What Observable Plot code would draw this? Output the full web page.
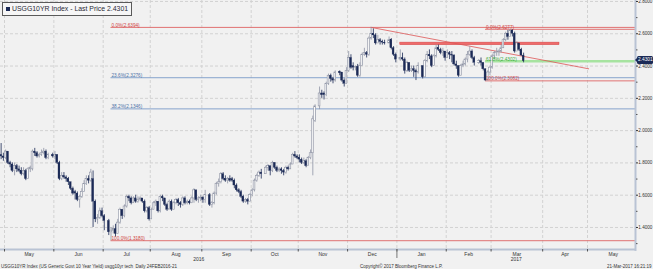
<!DOCTYPE html>
<html><head><meta charset="utf-8">
<script src="https://cdn.jsdelivr.net/npm/d3@7"></script>
<script src="https://cdn.jsdelivr.net/npm/@observablehq/plot@0.6"></script>
<style>
html,body{margin:0;padding:0;background:#f1f1f1;}
#wrap{position:relative;width:653px;height:269px;overflow:hidden;font-family:"Liberation Sans",Arial,sans-serif;}
#title{position:absolute;left:2px;top:2px;height:12px;padding:0 3px 0 3px;border:1px solid #5a5a5a;background:#f6f6f6;font-size:6.9px;line-height:12px;color:#2a2a36;white-space:nowrap;}
#title .sq{display:inline-block;width:4px;height:4px;background:#1b2a56;margin-right:2px;vertical-align:0px;}
#tag{position:absolute;height:7.5px;line-height:7.5px;padding:0 1px;background:#1b2a56;color:#fff;font-size:4.8px;border-radius:1.5px;text-align:center;width:14px;}
#tag:before{content:"";position:absolute;left:-2px;top:1.8px;border-top:2px solid transparent;border-bottom:2px solid transparent;border-right:2px solid #1b2a56;}
</style></head><body><div id="wrap"></div>
<script>
// ---------- data ----------
const holidays = ["2016-05-30","2016-07-04","2016-09-05","2016-10-10","2016-11-11","2016-11-24","2016-12-26","2017-01-02","2017-01-16","2017-02-20"];
const firstDate = "2016-04-27", lastDate = "2017-03-21";
// [open, high, low, close] per trading day
const apr16 = [[1.93,1.94,1.84,1.85],[1.85,1.92,1.82,1.84],[1.84,1.86,1.81,1.83]];
const may16 = [[1.83,1.88,1.82,1.87],[1.87,1.87,1.79,1.80],[1.80,1.81,1.77,1.79],[1.79,1.80,1.74,1.75],[1.75,1.80,1.72,1.78],
 [1.78,1.79,1.74,1.76],[1.76,1.78,1.74,1.75],[1.75,1.77,1.72,1.73],[1.73,1.77,1.72,1.75],[1.75,1.76,1.69,1.70],
 [1.70,1.77,1.70,1.76],[1.76,1.78,1.74,1.77],[1.76,1.88,1.75,1.87],[1.87,1.89,1.84,1.86],[1.86,1.87,1.83,1.84],
 [1.84,1.86,1.83,1.85],[1.85,1.88,1.84,1.86],[1.86,1.89,1.85,1.87],[1.87,1.88,1.82,1.83],[1.83,1.86,1.82,1.85],
 [1.85,1.86,1.83,1.84]];
const jun16 = [[1.84,1.87,1.82,1.85],[1.85,1.85,1.79,1.80],[1.80,1.81,1.69,1.70],
 [1.70,1.74,1.69,1.72],[1.72,1.74,1.70,1.71],[1.71,1.72,1.68,1.70],[1.70,1.71,1.66,1.68],[1.68,1.68,1.63,1.64],
 [1.64,1.65,1.60,1.61],[1.62,1.63,1.57,1.61],[1.61,1.62,1.56,1.57],[1.57,1.60,1.52,1.59],[1.59,1.64,1.58,1.62],
 [1.62,1.69,1.62,1.67],[1.67,1.72,1.66,1.70],[1.70,1.72,1.67,1.69],[1.69,1.76,1.68,1.74],[1.70,1.75,1.40,1.56],
 [1.56,1.57,1.43,1.45],[1.45,1.48,1.42,1.46],[1.46,1.52,1.45,1.50],[1.50,1.52,1.46,1.47]];
const jul16 = [[1.47,1.48,1.38,1.44],
 [1.44,1.45,1.35,1.37],[1.37,1.40,1.318,1.38],[1.38,1.41,1.36,1.39],[1.39,1.42,1.34,1.36],
 [1.36,1.45,1.36,1.43],[1.43,1.52,1.42,1.51],[1.51,1.51,1.45,1.47],[1.47,1.54,1.46,1.53],[1.53,1.60,1.52,1.59],
 [1.59,1.60,1.56,1.58],[1.58,1.59,1.54,1.55],[1.55,1.59,1.55,1.58],[1.58,1.60,1.55,1.56],[1.56,1.59,1.55,1.57],
 [1.57,1.59,1.56,1.58],[1.58,1.58,1.55,1.56],[1.56,1.57,1.49,1.50],[1.50,1.53,1.49,1.52],[1.52,1.53,1.44,1.45]];
const aug16 = [[1.45,1.52,1.45,1.51],[1.51,1.56,1.51,1.55],[1.55,1.57,1.53,1.56],[1.56,1.56,1.49,1.50],[1.50,1.60,1.49,1.59],
 [1.59,1.60,1.56,1.58],[1.58,1.58,1.53,1.54],[1.54,1.55,1.50,1.51],[1.51,1.57,1.51,1.56],[1.56,1.57,1.50,1.51],
 [1.51,1.56,1.51,1.55],[1.55,1.58,1.54,1.57],[1.57,1.58,1.53,1.55],[1.55,1.56,1.52,1.54],[1.54,1.59,1.53,1.58],
 [1.58,1.59,1.54,1.55],[1.55,1.57,1.54,1.56],[1.56,1.57,1.54,1.55],[1.55,1.59,1.55,1.58],[1.58,1.64,1.55,1.63],
 [1.63,1.63,1.56,1.57],[1.57,1.59,1.55,1.58],[1.58,1.60,1.56,1.585]];
const sep16 = [[1.585,1.59,1.55,1.57],[1.57,1.63,1.55,1.60],
 [1.60,1.61,1.53,1.54],[1.54,1.56,1.52,1.55],[1.55,1.62,1.54,1.61],[1.61,1.68,1.60,1.67],
 [1.67,1.70,1.65,1.68],[1.68,1.74,1.67,1.73],[1.73,1.74,1.69,1.70],[1.70,1.72,1.68,1.69],[1.69,1.71,1.67,1.70],
 [1.70,1.72,1.68,1.69],[1.70,1.71,1.68,1.69],[1.69,1.70,1.64,1.66],[1.66,1.67,1.62,1.63],[1.63,1.64,1.61,1.62],
 [1.62,1.63,1.58,1.59],[1.59,1.60,1.55,1.56],[1.56,1.58,1.55,1.57],[1.57,1.58,1.54,1.56],[1.56,1.61,1.56,1.60]];
const oct16 = [[1.60,1.64,1.59,1.63],[1.63,1.70,1.62,1.69],[1.69,1.73,1.68,1.72],[1.72,1.75,1.71,1.74],[1.74,1.76,1.70,1.73],
 [1.73,1.78,1.73,1.77],[1.77,1.79,1.75,1.78],[1.78,1.78,1.72,1.75],[1.75,1.81,1.74,1.80],
 [1.80,1.80,1.76,1.77],[1.77,1.78,1.74,1.75],[1.75,1.77,1.74,1.76],[1.76,1.77,1.73,1.75],[1.75,1.76,1.72,1.74],
 [1.74,1.78,1.73,1.77],[1.77,1.78,1.75,1.76],[1.76,1.80,1.76,1.79],[1.79,1.86,1.79,1.85],[1.85,1.87,1.83,1.84],
 [1.84,1.85,1.82,1.83]];
const nov16 = [[1.83,1.85,1.80,1.82],[1.82,1.83,1.79,1.80],[1.80,1.83,1.79,1.81],[1.81,1.82,1.77,1.78],
 [1.78,1.84,1.78,1.83],[1.83,1.88,1.82,1.86],[1.86,2.09,1.72,2.07],[2.06,2.16,2.05,2.15],
 [2.15,2.27,2.13,2.23],[2.23,2.25,2.20,2.22],[2.23,2.24,2.19,2.22],[2.22,2.30,2.21,2.29],[2.29,2.35,2.28,2.34],
 [2.34,2.35,2.30,2.32],[2.32,2.33,2.29,2.31],[2.31,2.37,2.30,2.36],[2.365,2.37,2.34,2.355],
 [2.36,2.36,2.30,2.31],[2.31,2.32,2.27,2.29],[2.29,2.39,2.29,2.37]];
const dec16 = [[2.37,2.49,2.36,2.45],[2.45,2.47,2.38,2.39],
 [2.40,2.42,2.37,2.39],[2.39,2.40,2.37,2.395],[2.395,2.41,2.33,2.34],[2.34,2.42,2.33,2.40],[2.40,2.48,2.40,2.47],
 [2.47,2.51,2.46,2.48],[2.48,2.49,2.45,2.47],[2.47,2.58,2.46,2.57],[2.57,2.6394,2.56,2.60],[2.60,2.63,2.57,2.59],
 [2.59,2.60,2.53,2.54],[2.54,2.59,2.54,2.56],[2.56,2.57,2.53,2.55],[2.55,2.56,2.53,2.545],[2.545,2.56,2.53,2.54],
 [2.54,2.58,2.54,2.56],[2.56,2.57,2.50,2.51],[2.51,2.52,2.46,2.47],[2.47,2.48,2.42,2.44]];
const jan17 = [[2.44,2.50,2.43,2.45],[2.45,2.48,2.43,2.44],[2.44,2.45,2.35,2.37],[2.37,2.43,2.36,2.42],
 [2.42,2.42,2.36,2.37],[2.37,2.40,2.36,2.38],[2.38,2.40,2.33,2.37],[2.37,2.38,2.31,2.36],[2.36,2.42,2.35,2.40],
 [2.40,2.40,2.32,2.33],[2.33,2.44,2.33,2.43],[2.43,2.49,2.42,2.47],[2.47,2.50,2.44,2.46],
 [2.46,2.47,2.39,2.40],[2.40,2.47,2.40,2.46],[2.46,2.53,2.45,2.51],[2.51,2.53,2.49,2.50],[2.50,2.51,2.47,2.48],
 [2.48,2.51,2.46,2.49],[2.49,2.49,2.43,2.45]];
const feb17 = [[2.45,2.50,2.45,2.48],[2.48,2.49,2.44,2.47],[2.47,2.49,2.42,2.465],
 [2.465,2.47,2.40,2.41],[2.41,2.43,2.38,2.40],[2.40,2.40,2.33,2.34],[2.34,2.41,2.34,2.40],[2.40,2.43,2.39,2.41],
 [2.41,2.45,2.40,2.44],[2.44,2.49,2.42,2.47],[2.47,2.52,2.46,2.49],[2.49,2.50,2.44,2.45],[2.45,2.46,2.40,2.42],
 [2.42,2.44,2.41,2.43],[2.43,2.45,2.40,2.42],[2.42,2.42,2.37,2.38],[2.38,2.38,2.3082,2.31],
 [2.31,2.37,2.31,2.36],[2.36,2.40,2.34,2.39]];
const mar17 = [[2.39,2.47,2.38,2.46],[2.46,2.49,2.44,2.48],[2.48,2.51,2.46,2.485],
 [2.485,2.50,2.46,2.49],[2.49,2.53,2.48,2.51],[2.51,2.57,2.51,2.56],[2.56,2.61,2.55,2.60],[2.60,2.62,2.56,2.58],
 [2.58,2.6277,2.58,2.62],[2.62,2.625,2.58,2.60],[2.60,2.61,2.48,2.49],[2.49,2.55,2.49,2.54],[2.54,2.54,2.49,2.50],
 [2.50,2.51,2.46,2.465],[2.465,2.48,2.42,2.4301]];

const yTickValues = [1.4,1.6,1.8,2.0,2.2,2.4,2.6,2.8];
const yMinorValues = [1.3,1.5,1.7,1.9,2.1,2.3,2.5,2.7];
const monthLabels = ["May","Jun","Jul","Aug","Sep","Oct","Nov","Dec","Jan","Feb","Mar","Apr","May"];
const monthStarts = ["2016-05-01","2016-06-01","2016-07-01","2016-08-01","2016-09-01","2016-10-01","2016-11-01","2016-12-01","2017-01-01","2017-02-01","2017-03-01","2017-04-01","2017-05-01","2017-06-01"];
const yearLabels = ["2016","2017"];
const yearStart = "2017-01-01";

const fibRatios = ["0.0%","23.6%","38.2%","100.0%","0.0%","61.8%","100.0%"];
const fibValues = [2.6394,2.3276,2.1346,1.3180,2.6277,2.4302,2.3082];
const fibStarts = ["2016-07-06","2016-07-06","2016-07-06","2016-07-06","2017-02-24","2017-02-24","2017-02-24"];
const trendDates = ["2016-12-15","2017-05-01"];
const trendValues = [2.6394,2.383];
const zoneDates = ["2017-01-03","2017-04-12"];
const zoneValues = [2.529,2.545];
const lastPrice = 2.4301;
const titleText = "USGG10YR Index - Last Price 2.4301";
const footerLeft = "USGG10YR Index (US Generic Govt 10 Year Yield) usgg10yr tech  Daily 24FEB2016-21";
const footerCenter = "Copyright\u00a9 2017 Bloomberg Finance L.P.";
const footerRight = "21-Mar-2017 16:21:19";

// ---------- weekday axis (Bloomberg skips weekends) ----------
const weekdays = [];
for (let t = Date.UTC(2016,3,27); t <= Date.UTC(2017,6,10); t += 864e5) {
  const d = new Date(t), w = d.getUTCDay();
  if (w !== 0 && w !== 6) weekdays.push(d.toISOString().slice(0,10));
}
const wIndex = new Map(weekdays.map((d,i) => [d,i]));
function idx(s) { let t = Date.parse(s + "T00:00:00Z"); let k; while ((k = new Date(t).toISOString().slice(0,10)) && !wIndex.has(k)) t += 864e5; return wIndex.get(k); }

const tradingDates = weekdays.filter(d => d >= firstDate && d <= lastDate && !holidays.includes(d));
const ohlc = [].concat(apr16,may16,jun16,jul16,aug16,sep16,oct16,nov16,dec16,jan17,feb17,mar17);
if (ohlc.length !== tradingDates.length) console.warn("count mismatch", ohlc.length, tradingDates.length);
const candles = tradingDates.map((d,k) => ({i: wIndex.get(d), o: ohlc[k][0], h: ohlc[k][1], l: ohlc[k][2], c: ohlc[k][3]}));
const up = candles.filter(d => d.c >= d.o), down = candles.filter(d => d.c < d.o);

const boundaries = monthStarts.map(s => idx(s) - 0.5);
const monthCenters = monthLabels.map((m,k) => ({x: (boundaries[k] + boundaries[k+1]) / 2, t: m}));
const xDomain = [0.716, 283.9];
const yDomain = [1.2636, 2.806];
const janB = idx(yearStart) - 0.5;
const yearCenters = [{x: (xDomain[0] + janB) / 2, t: yearLabels[0]}, {x: (janB + xDomain[1]) / 2, t: yearLabels[1]}];
const visB = boundaries.filter(b => b > xDomain[0] && b < xDomain[1]);

const fibs = fibRatios.map((r,k) => ({r, v: fibValues[k], x: idx(fibStarts[k]), label: `${r}(${fibValues[k].toFixed(4)})`}));
const fibColor = r => r === "61.8%" ? "#a6e3a0" : (r === "0.0%" || r === "100.0%") ? "#e07272" : "#86a3cc";
const fibText = r => r === "61.8%" ? "#3fae3f" : (r === "0.0%" || r === "100.0%") ? "#d04545" : "#4f74a8";
const trend = trendDates.map((d,k) => ({x: idx(d), v: trendValues[k]}));

const axisCol = "#b9c3d4";
const plot = Plot.plot({
  width: 653, height: 269,
  marginTop: 0, marginLeft: 0, marginRight: 18, marginBottom: 20,
  x: {type: "linear", domain: xDomain},
  y: {domain: yDomain},
  style: {background: "#f1f1f1", fontFamily: "'Liberation Sans', Arial, sans-serif", color: "#333", overflow: "visible"},
  marks: [
    Plot.ruleY(yTickValues, {stroke: "#d2d2d2", strokeDasharray: "3,2"}),
    Plot.ruleX(visB, {stroke: "#d2d2d2", strokeDasharray: "3,2"}),
    // fibonacci levels
    ...fibs.map(f => Plot.ruleY([f], {y: "v", x1: "x", x2: xDomain[1], stroke: fibColor(f.r), strokeWidth: f.r === "61.8%" ? 2.5 : 1})),
    // resistance zone
    Plot.rect([0], {x1: idx(zoneDates[0]), x2: idx(zoneDates[1]), y1: zoneValues[0], y2: zoneValues[1], fill: "#ef6b6b", stroke: "#d24a4a", strokeWidth: 0.5}),
    // trend line
    Plot.line(trend, {x: "x", y: "v", stroke: "#dd5555", strokeWidth: 0.8}),
    // candles
    Plot.ruleX(up, {x: "i", y1: "l", y2: "h", stroke: "#8e93a4", strokeWidth: 0.8, clip: true}),
    Plot.ruleX(down, {x: "i", y1: "l", y2: "h", stroke: "#1b2a56", strokeWidth: 0.8, clip: true}),
    Plot.rect(up, {x1: d => d.i - 0.38, x2: d => d.i + 0.38, y1: "o", y2: "c", fill: "#fbfbfb", stroke: "#8e93a4", strokeWidth: 0.6, clip: true}),
    Plot.rect(down, {x1: d => d.i - 0.42, x2: d => d.i + 0.42, y1: "o", y2: "c", fill: "#1b2a56", stroke: "#1b2a56", strokeWidth: 0.3, clip: true}),
    // fib labels
    Plot.text(fibs, {x: "x", y: "v", text: "label", textAnchor: "start", lineAnchor: "bottom", dx: 0.5, dy: -0.6, fontSize: 4.7, fill: d => fibText(d.r)}),
    // axes
    Plot.ruleX([xDomain[1]], {stroke: axisCol, strokeWidth: 2, y1: yDomain[0] - 0.012, y2: yDomain[1]}),
    Plot.ruleY([yDomain[0]], {stroke: axisCol, strokeWidth: 2, x1: xDomain[0], x2: xDomain[1]}),
    Plot.axisY({anchor: "right", ticks: yTickValues, tickFormat: d3.format(".4f"), tickSize: 2, tickPadding: 0.8, fontSize: 4.6, stroke: "#333", fill: "#333"}),
    Plot.axisY({anchor: "right", ticks: yMinorValues, tickFormat: () => "", tickSize: 1.5, stroke: "#555"}),
    Plot.axisX({anchor: "bottom", ticks: visB, tickFormat: () => "", tickSize: 2.5, stroke: "#555"}),
    Plot.axisX({anchor: "bottom", ticks: [janB], tickFormat: () => "", tickSize: 9, stroke: "#777"}),
    Plot.text(monthCenters, {x: "x", text: "t", frameAnchor: "bottom", dy: 6, fontSize: 5, fill: "#333"}),
    Plot.text(yearCenters, {x: "x", text: "t", frameAnchor: "bottom", dy: 11, fontSize: 5, fill: "#333"}),
    Plot.text([footerLeft], {frameAnchor: "bottom-left", dx: 0.5, dy: 18, text: d => d, fontSize: 4.5, fill: "#333", textAnchor: "start"}),
    Plot.text([footerCenter], {x: janB, frameAnchor: "bottom", dx: -37, dy: 18, text: d => d, fontSize: 4.5, fill: "#333", textAnchor: "start"}),
    Plot.text([footerRight], {frameAnchor: "bottom-right", dx: 16, dy: 18, text: d => d, fontSize: 4.5, fill: "#333", textAnchor: "end"})
  ]
});
const wrap = document.getElementById("wrap");
wrap.appendChild(plot);
const title = document.createElement("div");
title.id = "title";
title.innerHTML = '<span class="sq"></span>' + titleText;
wrap.appendChild(title);
const tag = document.createElement("div");
tag.id = "tag";
tag.textContent = lastPrice.toFixed(4);
tag.style.left = (plot.scale("x").apply(xDomain[1]) + 2) + "px";
tag.style.top = (plot.scale("y").apply(lastPrice) - 4.2) + "px";
wrap.appendChild(tag);
</script></body></html>
